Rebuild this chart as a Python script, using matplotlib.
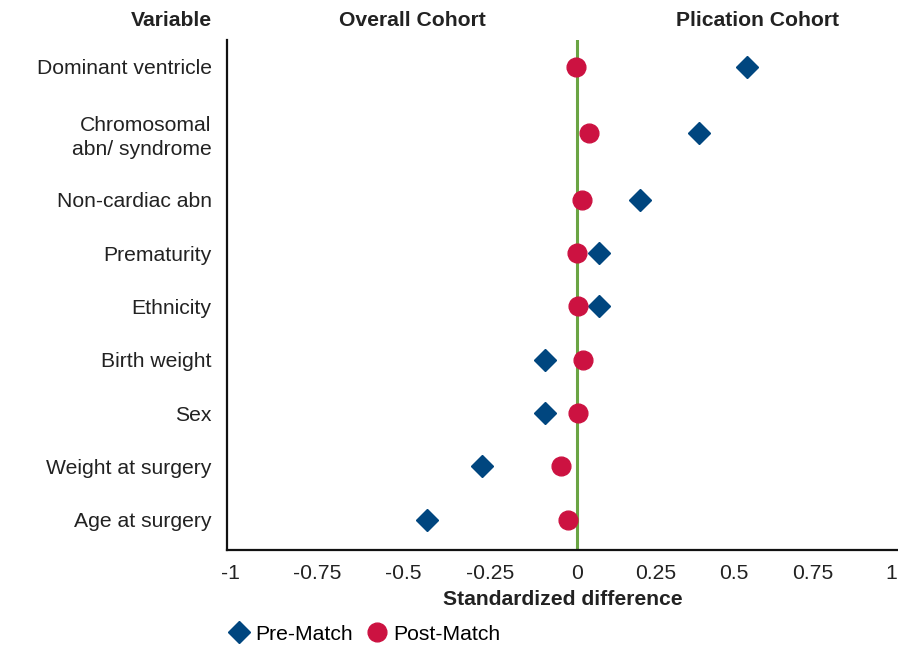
import numpy as np
import matplotlib.pyplot as plt
from matplotlib.lines import Line2D

plt.rcParams['font.family'] = ['Liberation Sans', 'DejaVu Sans']
plt.rcParams['axes.unicode_minus'] = False

variables = ['Dominant ventricle', 'Chromosomal\nabn/ syndrome', 'Non-cardiac abn',
             'Prematurity', 'Ethnicity', 'Birth weight', 'Sex',
             'Weight at surgery', 'Age at surgery']
pre_match = [0.54, 0.387, 0.2, 0.07, 0.07, -0.091, -0.091, -0.274, -0.434]
post_match = [-0.002, 0.038, 0.016, 0.0, 0.004, 0.019, 0.004, -0.046, -0.026]
xticks = [-1, -0.75, -0.5, -0.25, 0, 0.25, 0.5, 0.75, 1]
xtick_labels = ['-1', '-0.75', '-0.5', '-0.25', '0', '0.25', '0.5', '0.75', '1']

# row spacing: the top rows sit a bit further apart
rows = np.array([8.5, 7.25, 6, 5, 4, 3, 2, 1, 0])

blue = '#00467F'
red = '#CC1241'
green = '#6AA443'
fs = 15.2


# the source chart squeezes the positive half a little
def fwd(x):
    x = np.asarray(x, dtype=float)
    return np.where(x < 0, x * 1.1, x)


def inv(y):
    y = np.asarray(y, dtype=float)
    return np.where(y < 0, y / 1.1, y)


fig = plt.figure(figsize=(8.98, 6.49), dpi=100)
ax = fig.add_axes([227 / 898, 99 / 649, 671 / 898, 510 / 649])
ax.set_xscale('function', functions=(fwd, inv))

ax.axvline(0, color=green, lw=2.2, zorder=1)
ax.plot(pre_match, rows, 'D', color=blue, ms=10.8, ls='none', zorder=3)
ax.plot(post_match, rows, 'o', color=red, ms=13.5, ls='none', zorder=3)

ax.set_xlim(-1.01, 1.02)
ax.set_ylim(-0.57, 9.0)
ax.set_xticks(xticks)
ax.set_xticklabels(xtick_labels)
ax.set_yticks(rows)
ax.set_yticklabels(variables)
ax.xaxis.set_minor_locator(plt.NullLocator())
ax.tick_params(axis='both', length=0, labelsize=fs, colors='#222222')
ax.tick_params(axis='x', pad=10)
ax.tick_params(axis='y', pad=11)
for lbl in ax.get_yticklabels():
    lbl.set_multialignment('right')
    lbl.set_linespacing(1.3)

for side in ['top', 'right']:
    ax.spines[side].set_visible(False)
for side in ['left', 'bottom']:
    ax.spines[side].set_linewidth(1.6)
    ax.spines[side].set_color('#111111')

ax.set_xlabel('Standardized difference', fontsize=fs, fontweight='bold',
              color='#222222', labelpad=5)

fig.text(212 / 898, 1 - 20 / 649, 'Variable', ha='right', va='center',
         fontsize=fs, fontweight='bold', color='#222222')
fig.text(412 / 898, 1 - 20 / 649, 'Overall Cohort', ha='center', va='center',
         fontsize=fs, fontweight='bold', color='#222222')
fig.text(757 / 898, 1 - 20 / 649, 'Plication Cohort', ha='center', va='center',
         fontsize=fs, fontweight='bold', color='#222222')

handles = [Line2D([], [], marker='D', color=blue, ls='none', ms=10.8),
           Line2D([], [], marker='o', color=red, ms=13.5, ls='none')]
fig.legend(handles, ['Pre-Match', 'Post-Match'], loc='center left',
           bbox_to_anchor=(228 / 898, 1 - 634 / 649), ncol=2, frameon=False,
           fontsize=fs, handlelength=1.0, handletextpad=0.3,
           columnspacing=0.62, borderaxespad=0, borderpad=0)

fig.savefig('out.png', dpi=100)
